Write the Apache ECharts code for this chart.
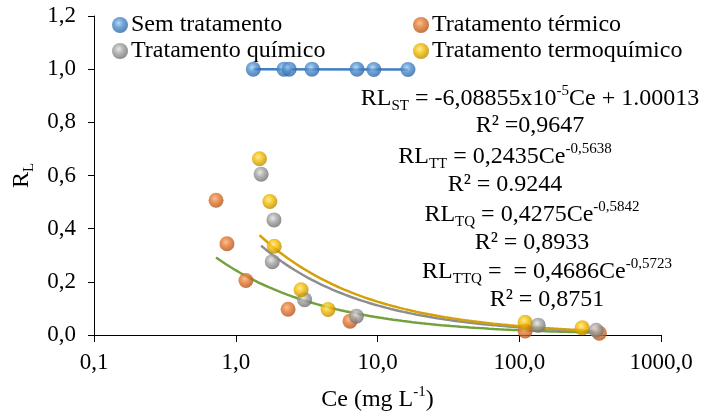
<!DOCTYPE html>
<html>
<head>
<meta charset="utf-8">
<script src="https://cdn.jsdelivr.net/npm/echarts@6/dist/echarts.min.js"></script>
<style>
  html, body { margin: 0; padding: 0; background: #fff; }
  #chart { width: 703px; height: 417px; }
</style>
</head>
<body>
<div id="chart"></div>
<script>
// Ce (mg/L) and RL values per treatment
var semCe = [1.33, 2.19, 2.38, 3.45, 7.17, 9.42, 16.4];
var semRL = [1.000, 1.000, 1.000, 1.000, 1.000, 0.999, 0.999];

var termCe = [0.726, 0.867, 1.18, 2.34, 6.4, 110, 367];
var termRL = [0.507, 0.343, 0.205, 0.097, 0.052, 0.015, 0.007];

var quimCe = [1.51, 1.81, 1.86, 3.06, 7.1, 136, 349];
var quimRL = [0.605, 0.276, 0.433, 0.133, 0.071, 0.037, 0.018];

var termoqCe = [1.47, 1.74, 1.87, 2.89, 4.48, 110, 278];
var termoqRL = [0.663, 0.502, 0.334, 0.170, 0.096, 0.048, 0.027];

var seriesNames = ['Sem tratamento', 'Tratamento térmico', 'Tratamento químico', 'Tratamento termoquímico'];

// fitted models: linear (slope, intercept) and power (a, b) for RL = a*Ce^b
var fitST = [-6.08855e-5, 1.00013];
var fitTT = [0.2435, -0.5638];
var fitTQ = [0.4275, -0.5842];
var fitTTQ = [0.4686, -0.5723];

var yTicks = [0, 0.2, 0.4, 0.6, 0.8, 1.0, 1.2];

var FONT = '"Liberation Serif", "Times New Roman", serif';

function pairs(xs, ys) {
  return xs.map(function (x, i) { return [x, ys[i]]; });
}

// power trend line over the series' Ce range
function powerCurve(fit, xs) {
  var lo = Math.min.apply(null, xs), hi = Math.max.apply(null, xs);
  var pts = [];
  var n = 80;
  for (var i = 0; i <= n; i++) {
    var x = Math.pow(10, Math.log10(lo) + (Math.log10(hi) - Math.log10(lo)) * i / n);
    pts.push([x, fit[0] * Math.pow(x, fit[1])]);
  }
  return pts;
}

function linearCurve(fit, xs) {
  var lo = Math.min.apply(null, xs), hi = Math.max.apply(null, xs);
  return [[lo, fit[0] * lo + fit[1]], [hi, fit[0] * hi + fit[1]]];
}

// shaded ball look for the markers
function sphere(light, base, dark) {
  return {
    type: 'radial', x: 0.42, y: 0.38, r: 0.62,
    colorStops: [
      { offset: 0, color: light },
      { offset: 0.45, color: base },
      { offset: 1, color: dark }
    ]
  };
}

var colBlue = sphere('#a9cdf0', '#4f8fd0', '#2f64a0');
var colOrange = sphere('#f7b07a', '#e5782f', '#b2521a');
var colGray = sphere('#e2e2e2', '#a3a3a3', '#6f6f6f');
var colGold = sphere('#ffe680', '#f5bd00', '#b88a00');

function scatter(name, color, data) {
  return {
    name: name, type: 'scatter', data: data,
    symbol: 'circle', symbolSize: 15, z: 5,
    itemStyle: { color: color }
  };
}

function line(color, data) {
  return {
    type: 'line', data: data, showSymbol: false, symbol: 'none', z: 3,
    smooth: false, silent: true,
    lineStyle: { color: color, width: 2.5 }
  };
}

function legendAt(name, left, top) {
  return {
    data: [name], left: left, top: top,
    icon: 'circle', itemWidth: 16, itemHeight: 16,
    padding: 0, selectedMode: false,
    textStyle: { fontFamily: FONT, fontSize: 24, color: '#000', padding: [0, 0, 0, -2] }
  };
}

var eqRich = {
  m: { fontFamily: FONT, fontSize: 24, color: '#000', lineHeight: 30, verticalAlign: 'middle' },
  sub: { fontFamily: FONT, fontSize: 15, color: '#000', lineHeight: 16, verticalAlign: 'bottom' },
  sup: { fontFamily: FONT, fontSize: 15, color: '#000', lineHeight: 16, verticalAlign: 'top' }
};

function eqText(text, x, y) {
  return {
    type: 'text', x: x, y: y, z: 10,
    style: {
      text: text, rich: eqRich, align: 'center', verticalAlign: 'middle',
      fontFamily: FONT, fontSize: 24, fill: '#000'
    }
  };
}

var chart = echarts.init(document.getElementById('chart'), null, { renderer: 'canvas' });

chart.setOption({
  animation: false,
  backgroundColor: '#fff',
  textStyle: { fontFamily: FONT },
  grid: { left: 94, right: 42, top: 16, bottom: 79, containLabel: false },
  legend: [
    legendAt(seriesNames[0], 112, 13),
    legendAt(seriesNames[2], 112, 39),
    legendAt(seriesNames[1], 413, 13),
    legendAt(seriesNames[3], 413, 39)
  ],
  xAxis: {
    type: 'log', logBase: 10, min: 0.1, max: 1000,
    name: '{m|Ce (mg L}{sup|-1}{m|)}',
    nameLocation: 'middle', nameGap: 50,
    nameTextStyle: { rich: eqRich, fontFamily: FONT },
    axisLine: { lineStyle: { color: '#000', width: 1 } },
    axisTick: { show: true, inside: false, length: 7, lineStyle: { color: '#000' } },
    minorTick: { show: false },
    splitLine: { show: false },
    axisLabel: {
      fontFamily: FONT, fontSize: 23, color: '#000', margin: 16,
      formatter: function (v) { return Number(v).toFixed(1).replace('.', ','); }
    }
  },
  yAxis: {
    type: 'value', min: yTicks[0], max: yTicks[yTicks.length - 1], interval: 0.2,
    name: '{m|R}{sub|L}',
    nameLocation: 'middle', nameGap: 55, nameRotate: 90,
    nameTextStyle: { rich: eqRich, fontFamily: FONT },
    axisLine: { show: true, lineStyle: { color: '#000', width: 1 } },
    axisTick: { show: true, inside: false, length: 6, lineStyle: { color: '#000' } },
    splitLine: { show: false },
    axisLabel: {
      fontFamily: FONT, fontSize: 23, color: '#000', margin: 18,
      formatter: function (v) { return Number(v).toFixed(1).replace('.', ','); }
    }
  },
  graphic: [
    eqText('{m|RL}{sub|ST}{m| = -6,08855x10}{sup|-5}{m|Ce + 1.00013}', 530, 99),
    eqText('{m|R² =0,9647}', 530, 126),
    eqText('{m|RL}{sub|TT}{m| = 0,2435Ce}{sup|-0,5638}', 505, 157),
    eqText('{m|R² = 0.9244}', 505, 185),
    eqText('{m|RL}{sub|TQ}{m| = 0,4275Ce}{sup|-0,5842}', 532, 215),
    eqText('{m|R² = 0,8933}', 532, 243),
    eqText('{m|RL}{sub|TTQ}{m| =  = 0,4686Ce}{sup|-0,5723}', 547, 272),
    eqText('{m|R² = 0,8751}', 547, 300)
  ],
  series: [
    line('#3f7fc4', linearCurve(fitST, semCe)),
    line('#72a23e', powerCurve(fitTT, termCe)),
    line('#8e8e8e', powerCurve(fitTQ, quimCe)),
    line('#d4a10a', powerCurve(fitTTQ, termoqCe)),
    scatter(seriesNames[0], colBlue, pairs(semCe, semRL)),
    scatter(seriesNames[1], colOrange, pairs(termCe, termRL)),
    scatter(seriesNames[2], colGray, pairs(quimCe, quimRL)),
    scatter(seriesNames[3], colGold, pairs(termoqCe, termoqRL))
  ]
});
</script>
</body>
</html>
